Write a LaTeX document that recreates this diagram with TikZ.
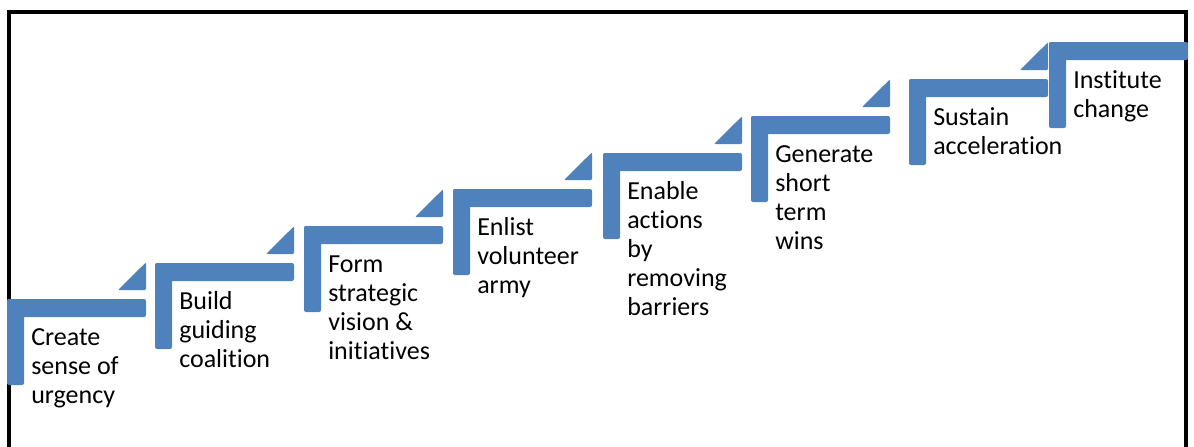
\documentclass[tikz,border=0pt]{standalone}
\usepackage{fontspec}
\setmainfont{Carlito}[Ligatures=NoCommon]
\usepackage{tikz}
\usetikzlibrary{positioning}
\definecolor{stepblue}{HTML}{4F81BD}
\tikzset{%
	frame/.style    = {line width=3.4pt, line join=miter},
	stepbar/.style  = {fill=stepblue, rounded corners=1.5pt},
	steptip/.style  = {fill=stepblue, rounded corners=0.8pt},
	steptext/.style = {anchor=north west, inner sep=0pt, align=left, font=\fontsize{19.5pt}{21.75pt}\selectfont},
}
\begin{document}
\begin{tikzpicture}[x=0.75pt,y=-0.75pt]
		\useasboundingbox (0,0) rectangle (1194,446);
		\draw[frame] (9,470) -- (9,12) -- (1186,12) -- (1186,470); % open frame
		
		\foreach \i/\x/\y/\w/\txt in {%
			1/7/299/139/{Create\\sense of\\urgency},
			2/155/263/139/{Build\\guiding\\coalition},
			3/304/226/139/{Form\\strategic\\vision \&\\initiatives},
			4/453/189/139/{Enlist\\volunteer\\army},
			5/603/153/139/{Enable\\actions\\by\\removing\\barriers},
			6/751/116/139/{Generate\\short\\term\\wins},
			7/909/79/139/{Sustain\\acceleration},
			8/1049/42/139/{Institute\\change}}{
			\fill[stepbar] (\x,\y) rectangle ++(\w,18);   % tread
			\fill[stepbar] (\x,\y) rectangle ++(17,86);   % riser
			\ifnum\i<8
				\fill[steptip] (\x+\w-28,\y-9) -- (\x+\w,\y-9) -- (\x+\w,\y-36.7) -- cycle;
			\fi
			\node[steptext] (s\i) at (\x+24,\y+25.7) {\strut\txt};
		}
	\end{tikzpicture}
\end{document}
